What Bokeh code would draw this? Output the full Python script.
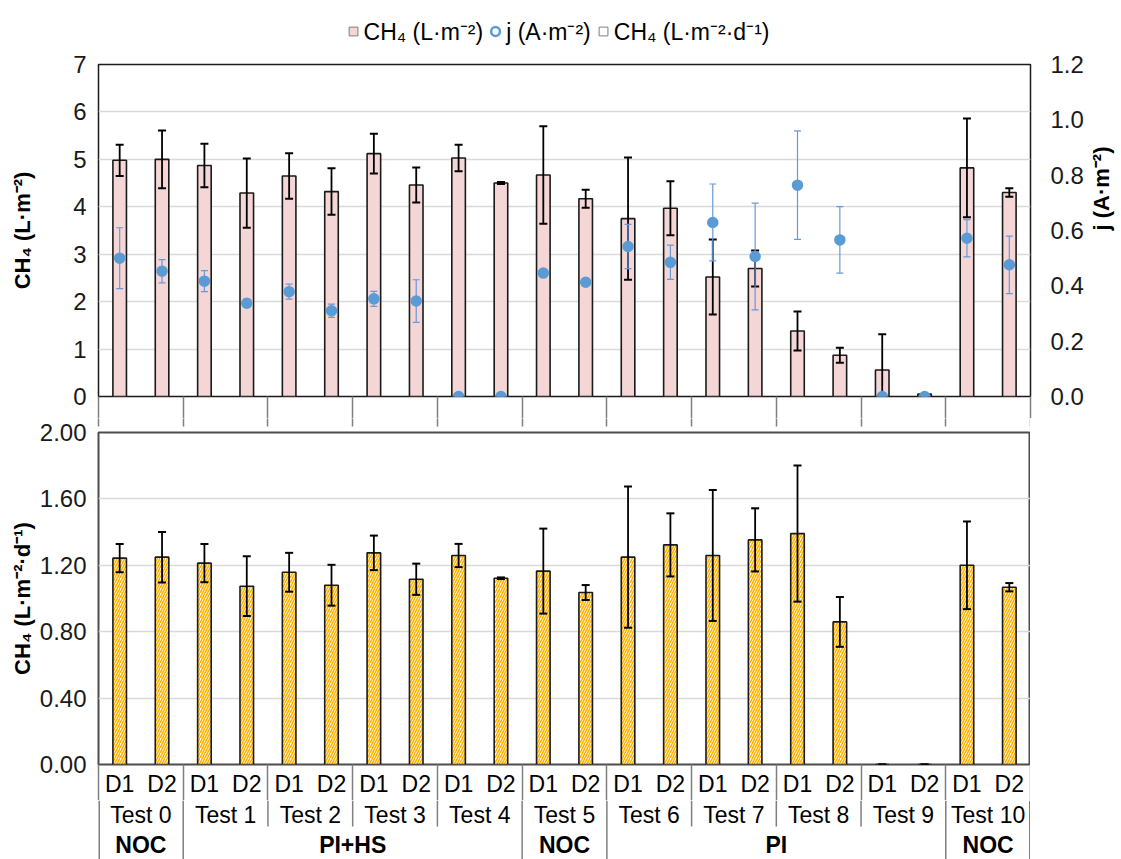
import math
from bokeh.plotting import figure
from bokeh.models import (ColumnDataSource, FactorRange, Range1d, LinearAxis, CategoricalAxis,
                          FixedTicker, NumeralTickFormatter, Legend, LegendItem)
from bokeh.core.properties import value
from bokeh.layouts import column
from bokeh.embed import file_html
from bokeh.resources import INLINE

# ---------------- data ----------------
tests = ["Test 0", "Test 1", "Test 2", "Test 3", "Test 4", "Test 5",
         "Test 6", "Test 7", "Test 8", "Test 9", "Test 10"]
days = ["D1", "D2"]
groups = ["NOC", "PI+HS", "NOC", "PI", "NOC"]
group_first_test = [0, 1, 5, 6, 10]
group_last_test = [0, 4, 5, 9, 10]

# cumulative CH4 (L m-2)
ch4_cum = [4.98, 5.00, 4.87, 4.29, 4.65, 4.32, 5.12, 4.46, 5.03, 4.50, 4.67,
           4.17, 3.75, 3.97, 2.52, 2.70, 1.38, 0.87, 0.56, 0.05, 4.82, 4.30]
ch4_cum_err = [0.33, 0.61, 0.46, 0.73, 0.48, 0.49, 0.42, 0.37, 0.28, 0.02, 1.03,
               0.19, 1.29, 0.57, 0.79, 0.38, 0.41, 0.16, 0.75, 0.00, 1.04, 0.09]
# current density j (A m-2)
j_vals = [0.50, 0.453, 0.417, 0.337, 0.379, 0.310, 0.353, 0.345, 0.0, 0.0, 0.446,
          0.413, 0.542, 0.485, 0.629, 0.506, 0.764, 0.566, 0.0, 0.0, 0.572, 0.476]
j_err = [0.110, 0.042, 0.038, 0.015, 0.027, 0.024, 0.027, 0.077, 0.0, 0.0, 0.0,
         0.0, 0.080, 0.062, 0.139, 0.193, 0.196, 0.120, 0.0, 0.0, 0.067, 0.104]
# CH4 rate (L m-2 d-1)
rate = [1.243, 1.249, 1.213, 1.074, 1.158, 1.080, 1.275, 1.116, 1.259, 1.122, 1.165,
        1.036, 1.249, 1.323, 1.259, 1.353, 1.391, 0.859, 0.0, 0.0, 1.200, 1.068]
rate_err = [0.085, 0.152, 0.115, 0.180, 0.117, 0.123, 0.104, 0.094, 0.070, 0.005, 0.256,
            0.045, 0.425, 0.190, 0.394, 0.190, 0.410, 0.150, 0.0, 0.0, 0.264, 0.025]

left_ticks_top = [0, 1, 2, 3, 4, 5, 6, 7]
right_ticks_top = [0.0, 0.2, 0.4, 0.6, 0.8, 1.0, 1.2]
left_ticks_bottom = [0.0, 0.4, 0.8, 1.2, 1.6, 2.0]

# ---------------- styling ----------------
FONT = "Liberation Sans"
FS_TICK = "24px"
FS_X = "23px"
FS_TITLE = "22px"
FS_LEG = "23px"
PINK = "#F3D6D5"
BLUE = "#5B9BD5"
BLUE_ERR = "#6A98D8"
ORANGE = "#FFB300"
GRID = "#D9D9D9"
SEP = "#7F7F7F"

FRAME_W = 932
FRAME_H = 332
LEFT = 98

factors = [(t, d) for t in tests for d in days]
b_all = [2 * k for k in range(len(tests) + 1)]  # test boundaries (synthetic coords)

src = ColumnDataSource(dict(
    x=factors,
    ch4=ch4_cum,
    ch4_lo=[max(v - e, 0.0) for v, e in zip(ch4_cum, ch4_cum_err)],
    ch4_hi=[v + e for v, e in zip(ch4_cum, ch4_cum_err)],
    j=j_vals,
    j_lo=[max(v - e, 0.0) for v, e in zip(j_vals, j_err)],
    j_hi=[v + e for v, e in zip(j_vals, j_err)],
    rate=rate,
    rate_lo=[max(v - e, 0.0) for v, e in zip(rate, rate_err)],
    rate_hi=[v + e for v, e in zip(rate, rate_err)],
))

xr = FactorRange(*factors, factor_padding=0, group_padding=0, subgroup_padding=0)


def bare(fig):
    fig.xgrid.grid_line_color = None
    fig.ygrid.grid_line_color = None
    fig.outline_line_color = None
    fig.background_fill_color = None
    fig.border_fill_color = None


def style_yaxis(ax, label, label_standoff, title_standoff):
    ax.axis_label = label
    ax.axis_label_text_font = FONT
    ax.axis_label_text_font_size = FS_TITLE
    ax.axis_label_text_font_style = "bold"
    ax.axis_label_text_color = "black"
    ax.major_label_text_font = FONT
    ax.major_label_text_font_size = FS_TICK
    ax.major_label_text_color = "#1a1a1a"
    ax.major_tick_line_color = None
    ax.minor_tick_line_color = None
    ax.axis_line_color = None
    ax.major_label_standoff = label_standoff
    ax.axis_label_standoff = title_standoff


def boundary_axis(tick_out, tick_in=0):
    """An unlabeled axis whose ticks mark the boundaries between tests."""
    ax = LinearAxis(ticker=FixedTicker(ticks=b_all),
                    major_label_overrides={b: "" for b in b_all})
    ax.axis_line_color = None
    ax.minor_tick_line_color = None
    ax.major_tick_line_color = SEP
    ax.major_tick_line_width = 1.5
    ax.major_tick_in = tick_in
    ax.major_tick_out = tick_out
    ax.major_label_text_font_size = "0px"
    ax.major_label_standoff = 0
    return ax


# ---------------- legend strip ----------------
p0 = figure(x_range=Range1d(0, 1), y_range=Range1d(0, 1), frame_width=FRAME_W - 17, frame_height=38,
            x_axis_location=None, y_axis_location=None, output_backend="svg",
            toolbar_location=None, min_border_left=LEFT, min_border_right=0,
            min_border_top=12, min_border_bottom=0)
bare(p0)
hidden = ColumnDataSource(dict(x=[-5], y=[-5]))
lg1 = p0.scatter(x="x", y="y", source=hidden, marker="square", fill_color=PINK,
                 line_color="#7F7F7F", line_width=1)
lg2 = p0.scatter(x="x", y="y", source=hidden, marker="circle", fill_color="white",
                 line_color=BLUE, line_width=2.5)
lg3 = p0.scatter(x="x", y="y", source=hidden, marker="square", fill_color="white",
                 line_color="#7F7F7F", line_width=1)
legend = Legend(items=[LegendItem(label="CH₄ (L·m⁻²)", renderers=[lg1]),
                       LegendItem(label="j (A·m⁻²)", renderers=[lg2]),
                       LegendItem(label="CH₄ (L·m⁻²·d⁻¹)", renderers=[lg3])],
                orientation="horizontal", location="center",
                glyph_width=22, glyph_height=22, label_standoff=0, spacing=1,
                padding=0, margin=0, border_line_color=None, background_fill_alpha=0,
                label_text_font=FONT, label_text_font_size=FS_LEG, label_text_color="black")
p0.add_layout(legend)

# ---------------- top chart ----------------
p1 = figure(x_range=xr, y_range=Range1d(0, 7), frame_width=FRAME_W, frame_height=FRAME_H,
            x_axis_location=None, output_backend="svg", toolbar_location=None,
            min_border_left=LEFT, min_border_right=60, min_border_top=14, min_border_bottom=22)
p1.extra_y_ranges = {"j": Range1d(0, 1.2)}
p1.outline_line_color = "#1a1a1a"
p1.outline_line_width = 1.5

ly = p1.yaxis[0]
ly.ticker = FixedTicker(ticks=left_ticks_top)
style_yaxis(ly, "CH₄ (L·m⁻²)", 6, 35)
p1.ygrid.ticker = FixedTicker(ticks=left_ticks_top)
p1.ygrid.grid_line_color = GRID
p1.ygrid.grid_line_width = 1.5
p1.xgrid.grid_line_color = None

ry = LinearAxis(y_range_name="j", ticker=FixedTicker(ticks=right_ticks_top),
                formatter=NumeralTickFormatter(format="0.0"))
style_yaxis(ry, "j (A·m⁻²)", 14, 15)
ry.axis_label_orientation = math.pi / 2
p1.add_layout(ry, "right")
p1.add_layout(boundary_axis(22), "below")

p1.vbar(x="x", top="ch4", width=0.32, source=src, fill_color=PINK,
        line_color="#1a1a1a", line_width=1.6)
p1.segment(x0="x", y0="ch4_lo", x1="x", y1="ch4_hi", source=src,
           line_color="black", line_width=1.8)
p1.scatter(x="x", y="ch4_hi", source=src, marker="dash", size=8, line_color="black", line_width=2)
p1.scatter(x="x", y="ch4_lo", source=src, marker="dash", size=8, line_color="black", line_width=2)

p1.segment(x0="x", y0="j_lo", x1="x", y1="j_hi", source=src, y_range_name="j",
           line_color=BLUE_ERR, line_width=1.2)
p1.scatter(x="x", y="j_hi", source=src, y_range_name="j", marker="dash", size=7,
           line_color=BLUE_ERR, line_width=1.2)
p1.scatter(x="x", y="j_lo", source=src, y_range_name="j", marker="dash", size=7,
           line_color=BLUE_ERR, line_width=1.2)
p1.scatter(x="x", y="j", source=src, y_range_name="j", marker="circle", size=10,
           fill_color=BLUE, line_color=BLUE, line_width=1.5)

# ---------------- bottom chart ----------------
p2 = figure(x_range=xr, y_range=Range1d(0, 2), frame_width=FRAME_W, frame_height=FRAME_H,
            x_axis_location=None, output_backend="svg", toolbar_location=None,
            min_border_left=LEFT, min_border_right=0, min_border_top=14, min_border_bottom=36)
p2.outline_line_color = "#4D4D4D"
p2.outline_line_width = 2
ly2 = p2.yaxis[0]
ly2.ticker = FixedTicker(ticks=left_ticks_bottom)
ly2.formatter = NumeralTickFormatter(format="0.00")
style_yaxis(ly2, "CH₄ (L·m⁻²·d⁻¹)", 6, 2)
p2.ygrid.ticker = FixedTicker(ticks=left_ticks_bottom)
p2.ygrid.grid_line_color = GRID
p2.ygrid.grid_line_width = 1.5
p2.xgrid.grid_line_color = None

# continuation of the top chart's boundary marks, stopping short of this frame
p2.add_layout(boundary_axis(14, -6), "above")
# boundary marks running down through the D1/D2 row
p2.add_layout(boundary_axis(0, -36), "below")
# D1 / D2 labels
xa = CategoricalAxis()
xa.major_label_text_font = FONT
xa.major_label_text_font_size = FS_X
xa.major_label_text_color = "black"
xa.major_label_standoff = 0
xa.major_tick_line_color = None
xa.minor_tick_line_color = None
xa.axis_line_color = None
xa.group_text_font_size = "0px"
xa.group_text_color = None
xa.separator_line_color = None
p2.add_layout(xa, "below")

p2.vbar(x="x", top="rate", width=0.32, source=src, fill_color="white",
        hatch_pattern="/", hatch_color=ORANGE, hatch_weight=1.6, hatch_scale=5,
        line_color="#1a1a1a", line_width=1.6)
p2.segment(x0="x", y0="rate_lo", x1="x", y1="rate_hi", source=src,
           line_color="black", line_width=1.8)
p2.scatter(x="x", y="rate_hi", source=src, marker="dash", size=8, line_color="black", line_width=2)
p2.scatter(x="x", y="rate_lo", source=src, marker="dash", size=8, line_color="black", line_width=2)

# ---------------- test / treatment rows ----------------
AX_H = 59
p3 = figure(x_range=xr, y_range=Range1d(AX_H, 0),
            frame_width=FRAME_W, frame_height=AX_H,
            x_axis_location=None, y_axis_location=None, output_backend="svg",
            toolbar_location=None, min_border_left=LEFT, min_border_right=0,
            min_border_top=0, min_border_bottom=0)
bare(p3)
group_bounds = sorted(set([2 * f for f in group_first_test] + [2 * (l + 1) for l in group_last_test]))
test_bounds = [b for b in b_all if b not in group_bounds]
inner_groups = [b for b in group_bounds if 0 < b < b_all[-1]]
edge_bounds = [b_all[0], b_all[-1]]
p3.segment(x0=test_bounds, y0=[0] * len(test_bounds), x1=test_bounds, y1=[26] * len(test_bounds),
           line_color=SEP, line_width=1.5)
p3.segment(x0=inner_groups, y0=[0] * len(inner_groups), x1=inner_groups,
           y1=[AX_H] * len(inner_groups), line_color=SEP, line_width=1.5)
p3.segment(x0=edge_bounds, y0=[0] * 2, x1=edge_bounds, y1=[AX_H] * 2,
           line_color=SEP, line_width=3)

test_src = ColumnDataSource(dict(x=tests, t=tests))
p3.text(x="x", y=14, text="t", source=test_src, text_align="center", text_baseline="middle",
        text_font=value(FONT), text_font_size=FS_X, text_color="black")
grp_src = ColumnDataSource(dict(x=[float(a + b + 1) for a, b in zip(group_first_test, group_last_test)],
                                t=groups))
p3.text(x="x", y=44, text="t", source=grp_src, text_align="center", text_baseline="middle",
        text_font=value(FONT), text_font_size=FS_X, text_font_style="bold", text_color="black")

layout = column(p0, p1, p2, p3, spacing=0)
open("out.html", "w").write(file_html(layout, INLINE))
